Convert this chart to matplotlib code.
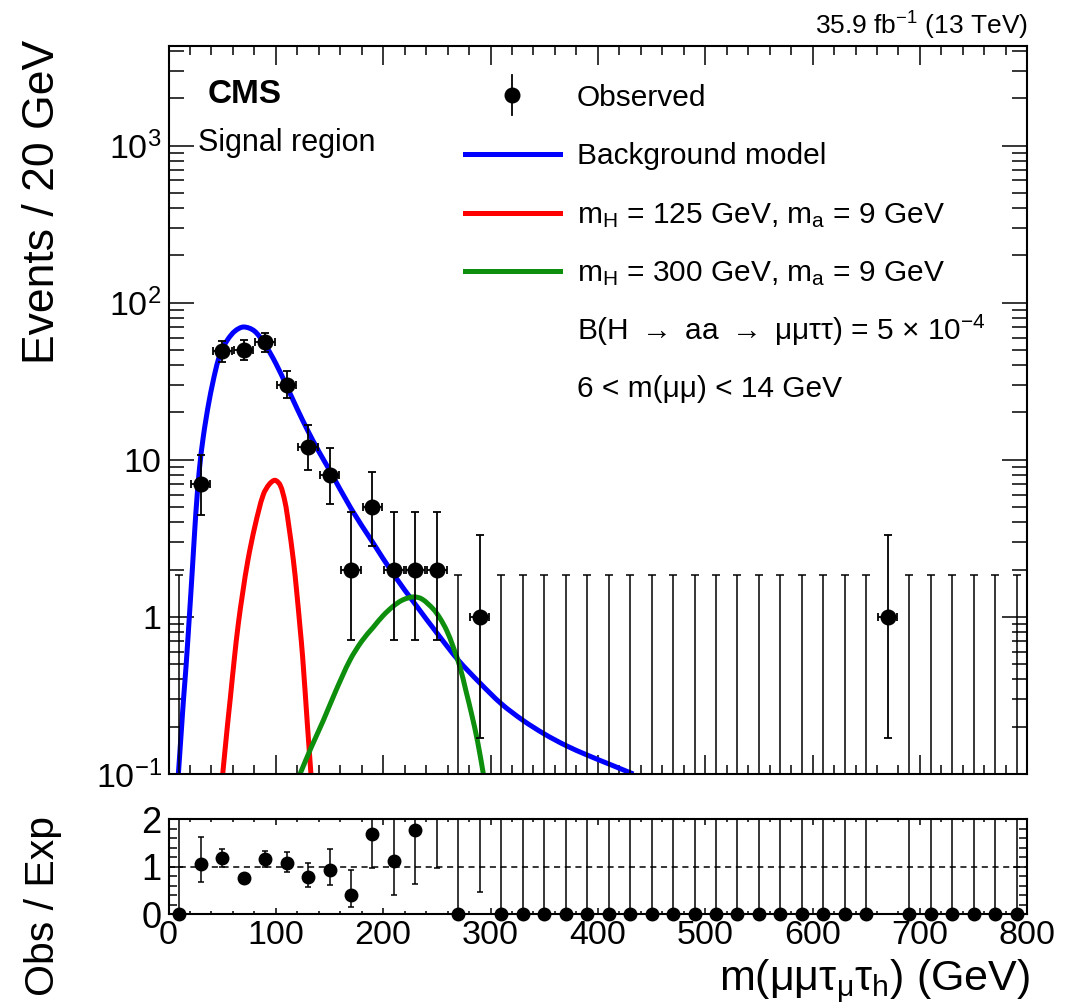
import numpy as np
import matplotlib
matplotlib.use("Agg")
import matplotlib.pyplot as plt
from matplotlib.ticker import FixedLocator, FixedFormatter, MultipleLocator, NullFormatter
from matplotlib.lines import Line2D
from matplotlib.path import Path
from matplotlib.patches import PathPatch

plt.rcParams['font.family'] = ['Liberation Sans', 'DejaVu Sans']
plt.rcParams['mathtext.fontset'] = 'custom'
plt.rcParams['mathtext.rm'] = 'Liberation Sans'
plt.rcParams['mathtext.it'] = 'Liberation Sans:italic'
plt.rcParams['mathtext.bf'] = 'Liberation Sans:bold'

# ---------------- data ----------------
bin_centers = [10, 30, 50, 70, 90, 110, 130, 150, 170, 190,
               210, 230, 250, 270, 290, 310, 330, 350, 370, 390,
               410, 430, 450, 470, 490, 510, 530, 550, 570, 590,
               610, 630, 650, 670, 690, 710, 730, 750, 770, 790]
observed = [0, 7, 49, 50, 56, 30, 12, 8, 2, 5,
            2, 2, 2, 0, 1, 0, 0, 0, 0, 0,
            0, 0, 0, 0, 0, 0, 0, 0, 0, 0,
            0, 0, 0, 1, 0, 0, 0, 0, 0, 0]
# Poisson (Garwood) error bars, lower / upper
obs_err_lo = [0, 2.58, 6.97, 7.04, 7.46, 5.45, 3.41, 2.77, 1.29, 2.16,
              1.29, 1.29, 1.29, 0, 0.83, 0, 0, 0, 0, 0,
              0, 0, 0, 0, 0, 0, 0, 0, 0, 0,
              0, 0, 0, 0.83, 0, 0, 0, 0, 0, 0]
obs_err_hi = [1.84, 3.77, 8.05, 8.12, 8.53, 6.54, 4.56, 3.95, 2.64, 3.38,
              2.64, 2.64, 2.64, 1.84, 2.30, 1.84, 1.84, 1.84, 1.84, 1.84,
              1.84, 1.84, 1.84, 1.84, 1.84, 1.84, 1.84, 1.84, 1.84, 1.84,
              1.84, 1.84, 1.84, 2.30, 1.84, 1.84, 1.84, 1.84, 1.84, 1.84]

# background model curve
bkg_mass = [9.2, 12, 14, 16.3, 19.4, 22.2, 24.7, 26.5, 28.7, 32.4, 38, 44.2, 48.6,
            55, 62, 70, 80, 90, 100, 110, 120, 130, 140, 150, 170, 190, 210,
            230, 250, 270, 290, 310, 330, 350, 370, 390, 410, 433]
bkg_value = [0.1, 0.19, 0.3, 0.48, 1.0, 2.0, 3.8, 5.7, 8.6, 14.0, 24, 38, 48,
             58, 66, 70, 66, 54, 41, 29.5, 21, 15.2, 11.3, 8.6, 4.9, 3.0, 1.85,
             1.2, 0.79, 0.53, 0.38, 0.28, 0.22, 0.18, 0.152, 0.132, 0.116, 0.1]

# signal mH = 125 GeV, ma = 9 GeV
sig125_mass = [50.5, 54.8, 57.5, 61.3, 65, 69.1, 74, 80.6, 88.3, 94, 99.2, 104,
               108.5, 111.6, 116.3, 119.4, 122.5, 125.0, 129.3, 132.7]
sig125_value = [0.1, 0.2, 0.3, 0.54, 0.9, 1.42, 2.3, 3.8, 6.0, 7.0, 7.4, 6.9,
                5.4, 4.0, 2.3, 1.45, 0.86, 0.55, 0.21, 0.1]

# signal mH = 300 GeV, ma = 9 GeV
sig300_mass = [122.5, 133, 144.2, 156, 169, 180, 190.8, 200, 209.4, 218, 228,
               236, 246.7, 252.9, 259.1, 265, 271.5, 277, 282.4, 288, 293.3]
sig300_value = [0.1, 0.148, 0.219, 0.34, 0.53, 0.70, 0.86, 1.02, 1.17, 1.28, 1.34,
                1.30, 1.12, 0.98, 0.82, 0.65, 0.48, 0.34, 0.24, 0.16, 0.1]

# ratio panel: Obs / Exp, with lower and upper ends of the error bars
nan = float('nan')
ratio = [0, 1.06, 1.18, 0.755, 1.155, 1.085, 0.79, 0.925, 0.405, 1.685,
         1.12, 1.785, 2.8, 0, 2.7, 0, 0, 0, 0, 0,
         0, 0, 0, 0, 0, 0, 0, 0, 0, 0,
         0, 0, 0, nan, 0, 0, 0, 0, 0, 0]
ratio_low = [0, 0.67, 1.0, 0.66, 1.0, 0.895, 0.565, 0.61, 0.145, 0.98,
             0.405, 0.635, 0.98, 0, 0.475, 0, 0, 0, 0, 0,
             0, 0, 0, 0, 0, 0, 0, 0, 0, 0,
             0, 0, 0, nan, 0, 0, 0, 0, 0, 0]
ratio_high = [20, 1.63, 1.37, 0.85, 1.33, 1.31, 1.09, 1.37, 0.93, 2.8,
              2.9, 3.4, 6.5, 20, 9, 20, 20, 20, 20, 20,
              20, 20, 20, 20, 20, 20, 20, 20, 20, 20,
              20, 20, 20, nan, 20, 20, 20, 20, 20, 20]

ytick_values = [0.1, 1, 10, 100, 1000]
ytick_labels = [r'$10^{-1}$', '1', '10', r'$10^{2}$', r'$10^{3}$']

# ---------------- figure ----------------
W, H = 1074, 1008
fig = plt.figure(figsize=(W / 100, H / 100), dpi=100)

def fx(px):
    return px / W

def fy(py):
    return 1 - py / H

ax = fig.add_axes([fx(168.5), fy(774), (1027.3 - 168.5) / W, (774 - 46) / H])
rax = fig.add_axes([fx(168.5), fy(914.3), (1027.3 - 168.5) / W, (914.3 - 819.3) / H])


def smooth_curve(axis, xs, ys, **kw):
    """Draw a smooth line through the given points (cubic Bezier segments,
    built in x / log10(y) space so it renders smoothly on the log axis)."""
    sx, sy = 1.0735, 156.8
    P = np.column_stack([np.asarray(xs, float) * sx, np.log10(np.asarray(ys, float)) * sy])
    d = np.sqrt(((P[1:] - P[:-1]) ** 2).sum(1))
    t = np.concatenate([[0.0], np.cumsum(d)])
    n = len(P)
    T = np.zeros_like(P)
    T[0] = (P[1] - P[0]) / (t[1] - t[0])
    T[-1] = (P[-1] - P[-2]) / (t[-1] - t[-2])
    for i in range(1, n - 1):
        T[i] = (P[i + 1] - P[i - 1]) / (t[i + 1] - t[i - 1])
    verts = [P[0]]
    codes = [Path.MOVETO]
    for i in range(n - 1):
        h = t[i + 1] - t[i]
        verts += [P[i] + T[i] * h / 3, P[i + 1] - T[i + 1] * h / 3, P[i + 1]]
        codes += [Path.CURVE4] * 3
    V = np.array(verts)
    data = np.column_stack([V[:, 0] / sx, 10 ** (V[:, 1] / sy)])
    axis.add_patch(PathPatch(Path(data, codes), fill=False, **kw))


x = np.array(bin_centers, float)
obs = np.array(observed, float)
elo = np.array(obs_err_lo, float)
ehi = np.array(obs_err_hi, float)

ax.set_yscale('log')
ax.set_xlim(0, 800)
ax.set_ylim(0.1, 4300)

# curves
smooth_curve(ax, bkg_mass, bkg_value, edgecolor='#0000ff', lw=3.6, zorder=2)
smooth_curve(ax, sig125_mass, sig125_value, edgecolor='#ff0000', lw=3.6, zorder=2)
smooth_curve(ax, sig300_mass, sig300_value, edgecolor='#0d8f0d', lw=3.6, zorder=2)

# observed points
nz = obs > 0
ax.errorbar(x[nz], obs[nz], yerr=[elo[nz], ehi[nz]], xerr=9, fmt='o', color='black',
            ms=10.5, lw=1.3, capsize=3, capthick=1.3, zorder=4)
zz = obs == 0
base = np.full(zz.sum(), 1e-3)
ax.errorbar(x[zz], base, yerr=[np.zeros(zz.sum()), ehi[zz] - 1e-3], fmt='none',
            ecolor='black', lw=1.1, capsize=3, capthick=1.1, zorder=3)

ax.set_xlim(0, 800)
ax.set_ylim(0.1, 4300)
ax.yaxis.set_major_locator(FixedLocator(ytick_values))
ax.yaxis.set_major_formatter(FixedFormatter(ytick_labels))
minors = [m * 10.0 ** e for e in range(-1, 4) for m in range(2, 10)]
ax.yaxis.set_minor_locator(FixedLocator(minors))
ax.yaxis.set_minor_formatter(NullFormatter())
ax.xaxis.set_major_locator(MultipleLocator(100))
ax.xaxis.set_minor_locator(MultipleLocator(20))
ax.tick_params(axis='both', which='both', direction='in', top=True, right=True,
               width=1.1, labelsize=24.5)
ax.tick_params(axis='x', which='major', length=13.5, labelbottom=False)
ax.tick_params(axis='x', which='minor', length=6.5)
ax.tick_params(axis='y', which='major', length=18, pad=5)
ax.tick_params(axis='y', which='minor', length=10.5)
for s in ax.spines.values():
    s.set_linewidth(1.5)

# ratio panel
r = np.array(ratio, float)
rl = np.array(ratio_low, float)
rh = np.array(ratio_high, float)
rax.errorbar(x, r, yerr=[r - rl, rh - r], fmt='none', ecolor='black', lw=1.1,
             capsize=2.5, capthick=1.1, zorder=3)
vis = (r >= 0) & (r <= 2)
rax.plot(x[vis], r[vis], 'o', color='black', ms=9, clip_on=False, zorder=4)
rax.axhline(1, color='black', lw=1.1, ls=(0, (4, 3)), zorder=1)
rax.set_xlim(0, 800)
rax.set_ylim(0, 2)
rax.xaxis.set_major_locator(MultipleLocator(100))
rax.xaxis.set_minor_locator(MultipleLocator(20))
rax.yaxis.set_major_locator(MultipleLocator(1))
rax.yaxis.set_minor_locator(MultipleLocator(0.2))
rax.tick_params(axis='both', which='both', direction='in', top=True, right=True,
                width=1.1, labelsize=24.5)
rax.tick_params(axis='x', which='major', length=4, pad=4)
rax.tick_params(axis='x', which='minor', length=2.2)
rax.tick_params(axis='y', which='major', length=10, pad=5, labelsize=26)
rax.tick_params(axis='y', which='minor', length=5.5)
for s in rax.spines.values():
    s.set_linewidth(1.5)

# axis titles
fig.text(fx(43), fy(40), 'Events / 20 GeV', rotation=90, ha='center', va='top', fontsize=32)
fig.text(fx(43), fy(816), 'Obs / Exp', rotation=90, ha='center', va='top', fontsize=29.5)
fig.text(fx(1030), fy(991), r'm(μμτ$_{\mathrm{μ}}$τ$_{\mathrm{h}}$) (GeV)', ha='right',
         va='baseline', fontsize=31)

# labels
fig.text(fx(1028), fy(35), r'35.9 fb$^{\mathrm{-1}}$ (13 TeV)', ha='right', va='baseline', fontsize=19)
fig.text(fx(208), fy(103), 'CMS', ha='left', va='baseline', fontsize=24, fontweight='bold')
fig.text(fx(198), fy(151), 'Signal region', ha='left', va='baseline', fontsize=22)

# legend (drawn manually)
leg_fs = 21.5
fig.add_artist(Line2D([fx(512), fx(512)], [fy(75), fy(115)], color='black', lw=1.3))
fig.add_artist(Line2D([fx(512)], [fy(95)], marker='o', color='black', ms=10.5, lw=0))
fig.add_artist(Line2D([fx(465), fx(560)], [fy(154), fy(154)], color='#0000ff', lw=3.6))
fig.add_artist(Line2D([fx(465), fx(560)], [fy(213), fy(213)], color='#ff0000', lw=3.6))
fig.add_artist(Line2D([fx(465), fx(560)], [fy(271), fy(271)], color='#0d8f0d', lw=3.6))
fig.text(fx(577), fy(106), 'Observed', fontsize=leg_fs, va='baseline')
fig.text(fx(577), fy(164), 'Background model', fontsize=leg_fs, va='baseline')
fig.text(fx(577), fy(223), r'm$_{\mathrm{H}}$ = 125 GeV, m$_{\mathrm{a}}$ = 9 GeV', fontsize=leg_fs, va='baseline')
fig.text(fx(577), fy(281), r'm$_{\mathrm{H}}$ = 300 GeV, m$_{\mathrm{a}}$ = 9 GeV', fontsize=leg_fs, va='baseline')
fig.text(fx(577), fy(340), r'B(H $\rightarrow$ aa $\rightarrow$ μμττ) = 5 × 10$^{\mathrm{-4}}$',
         fontsize=leg_fs, va='baseline')
fig.text(fx(577), fy(397), '6 < m(μμ) < 14 GeV', fontsize=leg_fs, va='baseline')

fig.savefig('out.png', dpi=100)
